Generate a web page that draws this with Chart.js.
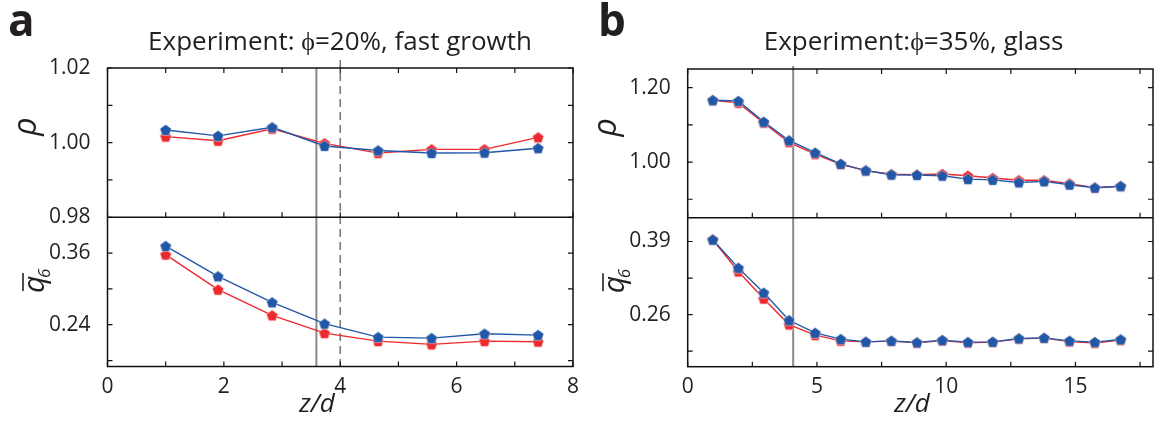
<!DOCTYPE html>
<html>
<head>
<meta charset="utf-8">
<script src="https://cdn.jsdelivr.net/npm/chart.js"></script>
<style>
  body { margin: 0; background: #fff; }
  .panel { position: absolute; top: 0; width: 580px; height: 425px; }
</style>
</head>
<body>
<div class="panel" style="left:0"><canvas id="chartA" width="580" height="425"></canvas></div>
<div class="panel" style="left:580px"><canvas id="chartB" width="580" height="425"></canvas></div>
<script>
// panel a: phi = 20%, fast growth
let zA = [1.0, 1.9, 2.83, 3.73, 4.65, 5.57, 6.48, 7.40]
let rhoBlueA = [1.0034, 1.0018, 1.0041, 0.9991, 0.9979, 0.9972, 0.9973, 0.9985]
let rhoRedA = [1.0016, 1.0005, 1.0037, 0.9998, 0.9972, 0.9982, 0.9982, 1.0014]
let qBlueA = [0.3717, 0.3209, 0.2774, 0.2417, 0.2192, 0.2175, 0.2249, 0.2226]
let qRedA = [0.3573, 0.2987, 0.2556, 0.2259, 0.2125, 0.2070, 0.2125, 0.2115]
let linesA = [3.59, 4.0]   // solid, dashed

// panel b: phi = 35%, glass
let zB = [0.97, 1.96, 2.94, 3.92, 4.93, 5.92, 6.89, 7.88, 8.87, 9.85, 10.84, 11.8, 12.81, 13.79, 14.77, 15.75, 16.75]
let rhoBlueB = [1.166, 1.164, 1.108, 1.058, 1.025, 0.995, 0.977, 0.966, 0.965, 0.963, 0.954, 0.952, 0.945, 0.948, 0.939, 0.931, 0.935]
let rhoRedB = [1.166, 1.159, 1.105, 1.053, 1.021, 0.994, 0.977, 0.967, 0.966, 0.968, 0.963, 0.957, 0.951, 0.951, 0.942, 0.931, 0.935]
let qBlueB = [0.3931, 0.3431, 0.2989, 0.2500, 0.2276, 0.2164, 0.2117, 0.2134, 0.2106, 0.2147, 0.2111, 0.2117, 0.2177, 0.2187, 0.2134, 0.2111, 0.2159]
let qRedB = [0.3931, 0.3366, 0.2883, 0.2424, 0.2235, 0.2134, 0.2117, 0.2129, 0.2099, 0.2138, 0.2099, 0.2111, 0.2170, 0.2182, 0.2120, 0.2094, 0.2147]
let linesB = [4.08]

// tick values (all ticks) and the ones that get a label
let xTicksA = [0, 1, 2, 3, 4, 5, 6, 7, 8]
let xLabelsA = [0, 2, 4, 6, 8]
let rhoTicksA = [0.98, 0.99, 1.00, 1.01, 1.02]
let rhoLabelsA = [0.98, 1.00, 1.02]
let qTicksA = [0.18, 0.24, 0.30, 0.36]
let qLabelsA = [0.24, 0.36]

let xTicksB = [0, 2.5, 5, 7.5, 10, 12.5, 15, 17.5]
let xLabelsB = [0, 5, 10, 15]
let rhoTicksB = [0.90, 1.00, 1.10, 1.20]
let rhoLabelsB = [1.00, 1.20]
let qTicksB = [0.195, 0.26, 0.325, 0.39]
let qLabelsB = [0.26, 0.39]

const BLUE = '#2157a6'
const RED = '#ec2a2e'
const INK = '#231f20'

Chart.defaults.font.family = '"Open Sans", "Noto Sans", sans-serif'
Chart.defaults.font.size = 21
Chart.defaults.color = INK

// pentagon marker as an image point style
function pentagon(color) {
  const c = document.createElement('canvas')
  c.width = 14
  c.height = 14
  const g = c.getContext('2d')
  g.beginPath()
  for (let k = 0; k < 5; k++) {
    const a = -Math.PI / 2 + k * 2 * Math.PI / 5
    const px = 7 + 6 * Math.cos(a)
    const py = 7.5 + 6 * Math.sin(a)
    if (k) g.lineTo(px, py); else g.moveTo(px, py)
  }
  g.closePath()
  g.fillStyle = color
  g.fill()
  g.strokeStyle = 'rgba(255,255,255,0.55)'
  g.lineWidth = 0.8
  g.stroke()
  return c
}
const pentBlue = pentagon(BLUE)
const pentRed = pentagon(RED)

function pts(xs, ys) {
  return xs.map((x, i) => ({x: x, y: ys[i]}))
}

function hasVal(list, v) {
  return list.some(t => Math.abs(t - v) < 1e-6)
}

function fixedTicks(list) {
  return scale => { scale.ticks = list.map(v => ({value: v})) }
}

// frame, inward ticks, reference lines and texts
const framePlugin = {
  id: 'frame',
  beforeDatasetsDraw(chart, args, o) {
    const ctx = chart.ctx
    const a = chart.chartArea
    const x = chart.scales.x
    ctx.save()
    o.lines.forEach((v, i) => {
      const px = x.getPixelForValue(v)
      ctx.beginPath()
      if (i === 0) {
        ctx.strokeStyle = '#8a8a8a'
        ctx.lineWidth = 2
        ctx.setLineDash([])
        ctx.moveTo(px, a.top - o.solidOver)
      } else {
        ctx.strokeStyle = '#7a7a7a'
        ctx.lineWidth = 1.6
        ctx.setLineDash([8, 5])
        ctx.moveTo(px, a.top - 8)
      }
      ctx.lineTo(px, a.bottom)
      ctx.stroke()
    })
    ctx.restore()
  },
  afterDraw(chart, args, o) {
    const ctx = chart.ctx
    const a = chart.chartArea
    const x = chart.scales.x
    const yr = chart.scales.yr
    const yq = chart.scales.yq
    const mid = yr.bottom
    const tl = 5
    ctx.save()
    ctx.strokeStyle = '#111'
    ctx.lineWidth = 1.5
    ctx.strokeRect(a.left, a.top, a.right - a.left, a.bottom - a.top)
    ctx.beginPath()
    ctx.moveTo(a.left, mid)
    ctx.lineTo(a.right, mid)
    ctx.stroke()

    ctx.lineWidth = 1.2
    ctx.beginPath()
    x.ticks.forEach(t => {
      const px = x.getPixelForValue(t.value)
      ctx.moveTo(px, a.top); ctx.lineTo(px, a.top + tl)
      ctx.moveTo(px, mid); ctx.lineTo(px, mid - tl)
      ctx.moveTo(px, a.bottom); ctx.lineTo(px, a.bottom - tl)
    });
    [yr, yq].forEach(s => {
      s.ticks.forEach(t => {
        const py = s.getPixelForValue(t.value)
        ctx.moveTo(a.left, py); ctx.lineTo(a.left + tl, py)
        ctx.moveTo(a.right, py); ctx.lineTo(a.right - tl, py)
      })
    })
    ctx.stroke()

    ctx.fillStyle = INK
    // panel letter
    ctx.font = 'bold 44px "Open Sans"'
    ctx.textAlign = 'left'
    ctx.textBaseline = 'alphabetic'
    ctx.fillText(o.letter, o.letterX, 36)
    // title
    ctx.font = '26px "Open Sans"'
    ctx.textAlign = 'center'
    ctx.fillText(o.title, o.titleX, 49.5)
    // x title
    ctx.font = 'italic 26px "Open Sans"'
    ctx.fillText('z/d', o.xTitleX, 412)

    // rho label, rotated
    ctx.save()
    ctx.translate(35.5, (yr.top + yr.bottom) / 2 - 16)
    ctx.rotate(-Math.PI / 2)
    ctx.font = 'italic 32px "Open Sans"'
    ctx.textAlign = 'center'
    ctx.fillText('\u03c1', 0, 0)
    ctx.restore()

    // q6 bar label, rotated
    ctx.save()
    ctx.translate(44, (yq.top + yq.bottom) / 2 + 1)
    ctx.rotate(-Math.PI / 2)
    ctx.font = 'italic 30px "Open Sans"'
    ctx.textAlign = 'left'
    ctx.fillText('q', 0, 0)
    ctx.font = 'italic 17px "Open Sans"'
    ctx.fillText('6', 15, 6)
    ctx.strokeStyle = INK
    ctx.lineWidth = 1.6
    ctx.beginPath()
    ctx.moveTo(2, -21)
    ctx.lineTo(20, -21)
    ctx.stroke()
    ctx.restore()

    ctx.restore()
  }
}

function makePanel(id, d) {
  const ctx = document.getElementById(id).getContext('2d')
  return new Chart(ctx, {
    type: 'line',
    data: {
      datasets: [
        {data: pts(d.z, d.rhoBlue), yAxisID: 'yr', borderColor: BLUE, pointStyle: d.pBlue},
        {data: pts(d.z, d.qBlue), yAxisID: 'yq', borderColor: BLUE, pointStyle: d.pBlue},
        {data: pts(d.z, d.rhoRed), yAxisID: 'yr', borderColor: RED, pointStyle: d.pRed},
        {data: pts(d.z, d.qRed), yAxisID: 'yq', borderColor: RED, pointStyle: d.pRed}
      ]
    },
    options: {
      responsive: false,
      animation: false,
      events: [],
      elements: {
        line: {borderWidth: 1.4, tension: 0},
        point: {radius: 6}
      },
      layout: {padding: {left: 0, right: d.padRight, top: d.padTop, bottom: 0}},
      scales: {
        x: {
          type: 'linear',
          min: d.xMin, max: d.xMax,
          grid: {display: false}, border: {display: false},
          afterBuildTicks: fixedTicks(d.xTicks),
          afterFit: s => { s.height = d.xHeight },
          ticks: {
            autoSkip: false, maxRotation: 0, padding: 0,
            callback: v => hasVal(d.xLabels, v) ? String(v) : ''
          }
        },
        yr: {
          type: 'linear', position: 'left', stack: 'p', stackWeight: 1, weight: 2,
          min: d.rhoMin, max: d.rhoMax,
          grid: {display: false}, border: {display: false},
          afterBuildTicks: fixedTicks(d.rhoTicks),
          afterFit: s => { s.width = d.yWidth },
          ticks: {
            autoSkip: false, padding: 9,
            callback: v => hasVal(d.rhoLabels, v) ? v.toFixed(2) : ''
          }
        },
        yq: {
          type: 'linear', position: 'left', stack: 'p', stackWeight: 1, weight: 1,
          min: d.qMin, max: d.qMax,
          grid: {display: false}, border: {display: false},
          afterBuildTicks: fixedTicks(d.qTicks),
          afterFit: s => { s.width = d.yWidth },
          ticks: {
            autoSkip: false, padding: 9,
            callback: v => hasVal(d.qLabels, v) ? v.toFixed(2) : ''
          }
        }
      },
      plugins: {
        legend: {display: false},
        tooltip: {enabled: false},
        frame: d.frame
      }
    },
    plugins: [framePlugin]
  })
}

makePanel('chartA', {
  z: zA, rhoBlue: rhoBlueA, rhoRed: rhoRedA, qBlue: qBlueA, qRed: qRedA,
  pBlue: pentBlue, pRed: pentRed,
  xMin: 0, xMax: 8, xTicks: xTicksA, xLabels: xLabelsA,
  rhoMin: 0.98, rhoMax: 1.02, rhoTicks: rhoTicksA, rhoLabels: rhoLabelsA,
  qMin: 0.17, qMax: 0.42, qTicks: qTicksA, qLabels: qLabelsA,
  padRight: 6.5, padTop: 68, xHeight: 58.5, yWidth: 107.5,
  frame: {letter: 'a', letterX: 8, title: 'Experiment: \u03d5=20%, fast growth', titleX: 340, xTitleX: 317, lines: linesA, solidOver: 0}
})

makePanel('chartB', {
  z: zB, rhoBlue: rhoBlueB, rhoRed: rhoRedB, qBlue: qBlueB, qRed: qRedB,
  pBlue: pentBlue, pRed: pentRed,
  xMin: 0, xMax: 18, xTicks: xTicksB, xLabels: xLabelsB,
  rhoMin: 0.85, rhoMax: 1.25, rhoTicks: rhoTicksB, rhoLabels: rhoLabelsB,
  qMin: 0.1675, qMax: 0.432, qTicks: qTicksB, qLabels: qLabelsB,
  padRight: 5.3, padTop: 69, xHeight: 58.3, yWidth: 107.7,
  frame: {letter: 'b', letterX: 18, title: 'Experiment:\u03d5=35%, glass', titleX: 333.5, xTitleX: 332, lines: linesB, solidOver: 3}
})
</script>
</body>
</html>
